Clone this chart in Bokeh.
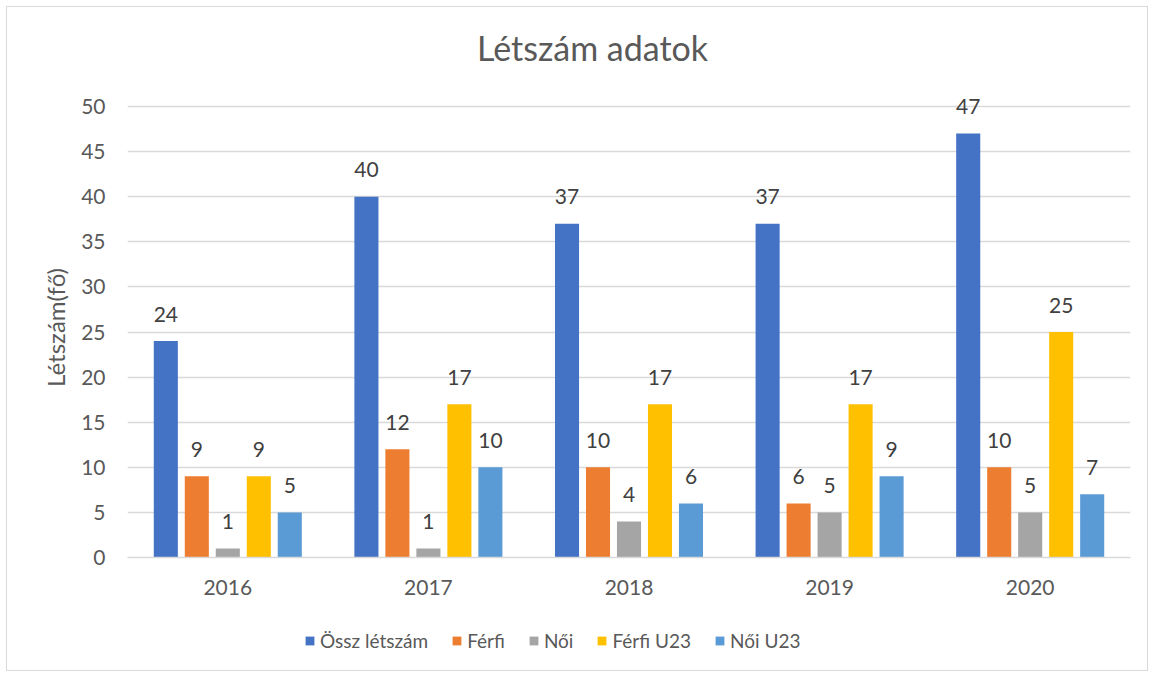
from bokeh.plotting import figure
from bokeh.layouts import column
from bokeh.models import FactorRange, Legend, LegendItem, ColumnDataSource, FixedTicker
from bokeh.transform import dodge
from bokeh.core.properties import value
from bokeh.embed import file_html
from bokeh.resources import INLINE

title_text = "Létszám adatok"
years = ["2016", "2017", "2018", "2019", "2020"]
series_names = ["Össz létszám", "Férfi", "Női", "Férfi U23", "Női U23"]
ossz = [24, 40, 37, 37, 47]
ferfi = [9, 12, 10, 6, 10]
noi = [1, 1, 4, 5, 5]
ferfi_u23 = [9, 17, 17, 17, 25]
noi_u23 = [5, 10, 6, 9, 7]
y_ticks = [0, 5, 10, 15, 20, 25, 30, 35, 40, 45, 50]
colors = ["#4472C4", "#ED7D31", "#A5A5A5", "#FFC000", "#5B9BD5"]

series = [ossz, ferfi, noi, ferfi_u23, noi_u23]
FONT = "Lato"
W = 1140


def strip(height):
    f = figure(width=W, height=height, output_backend="svg", toolbar_location=None,
               x_range=(0, 1003), y_range=(0, height), x_axis_type=None, y_axis_type=None,
               min_border_left=120, min_border_right=17, min_border_top=0, min_border_bottom=0)
    f.outline_line_color = None
    f.xgrid.grid_line_color = None
    f.ygrid.grid_line_color = None
    return f


# title strip
top = strip(70)
top.text(x=[465], y=[30], text=[title_text], text_align="center", text_baseline="middle",
         text_font=value(FONT), text_font_size="34px", text_color="#595959")

data = {"year": years}
for i, s in enumerate(series):
    data[f"s{i}"] = s
    data[f"l{i}"] = [str(v) for v in s]
src = ColumnDataSource(data)

p = figure(x_range=FactorRange(*years), y_range=(0, 51),
           width=W, height=535, output_backend="svg", toolbar_location=None,
           min_border_left=120, min_border_right=17, min_border_top=20, min_border_bottom=55)
p.title.text = ""
p.outline_line_color = None
p.xgrid.grid_line_color = None
p.ygrid.grid_line_color = "#d9d9d9"
p.ygrid.grid_line_width = 1.3

bar_w = 0.12
pitch = 0.1545
for i, col in enumerate(colors):
    off = (i - 2) * pitch
    p.vbar(x=dodge("year", off, range=p.x_range), top=f"s{i}", width=bar_w,
           source=src, fill_color=col, line_color=None)
    p.text(x=dodge("year", off, range=p.x_range), y=f"s{i}", text=f"l{i}", source=src,
           text_align="center", text_baseline="middle", y_offset=-27,
           text_font=value(FONT), text_font_size="21px", text_color="#404040")

# axes
p.yaxis.ticker = FixedTicker(ticks=y_ticks)
p.yaxis.axis_line_color = None
p.yaxis.major_tick_line_color = None
p.yaxis.minor_tick_line_color = None
p.yaxis.major_label_standoff = 16
p.yaxis.major_label_text_font = FONT
p.yaxis.major_label_text_font_size = "21px"
p.yaxis.major_label_text_color = "#595959"
p.yaxis.axis_label = "Létszám(fő)"
p.yaxis.axis_label_text_font = FONT
p.yaxis.axis_label_text_font_size = "24px"
p.yaxis.axis_label_text_font_style = "normal"
p.yaxis.axis_label_text_color = "#595959"
p.yaxis.axis_label_standoff = 8

p.xaxis.axis_line_color = "#d9d9d9"
p.xaxis.axis_line_width = 1.3
p.xaxis.major_tick_line_color = None
p.xaxis.minor_tick_line_color = None
p.xaxis.major_label_standoff = 16
p.xaxis.major_label_text_font = FONT
p.xaxis.major_label_text_font_size = "21px"
p.xaxis.major_label_text_color = "#595959"

# legend strip
lg = strip(58)
items = []
for name, col in zip(series_names, colors):
    r = lg.vbar(x=[500], top=[0], bottom=[0], width=1, fill_color=col, line_color=None)
    items.append(LegendItem(label=name, renderers=[r]))

legend = Legend(items=items, orientation="horizontal", location=(177, 18),
                glyph_width=11, glyph_height=11, label_standoff=5, spacing=23,
                padding=0, margin=0, border_line_color=None, background_fill_alpha=0,
                label_text_font=FONT, label_text_font_size="19px", label_text_color="#595959")
lg.add_layout(legend, "center")

layout = column(top, p, lg, spacing=0)
layout.margin = (6, 0, 0, 6)
layout.styles = {"border": "1px solid #d9d9d9"}

open("out.html", "w").write(file_html(layout, INLINE))
